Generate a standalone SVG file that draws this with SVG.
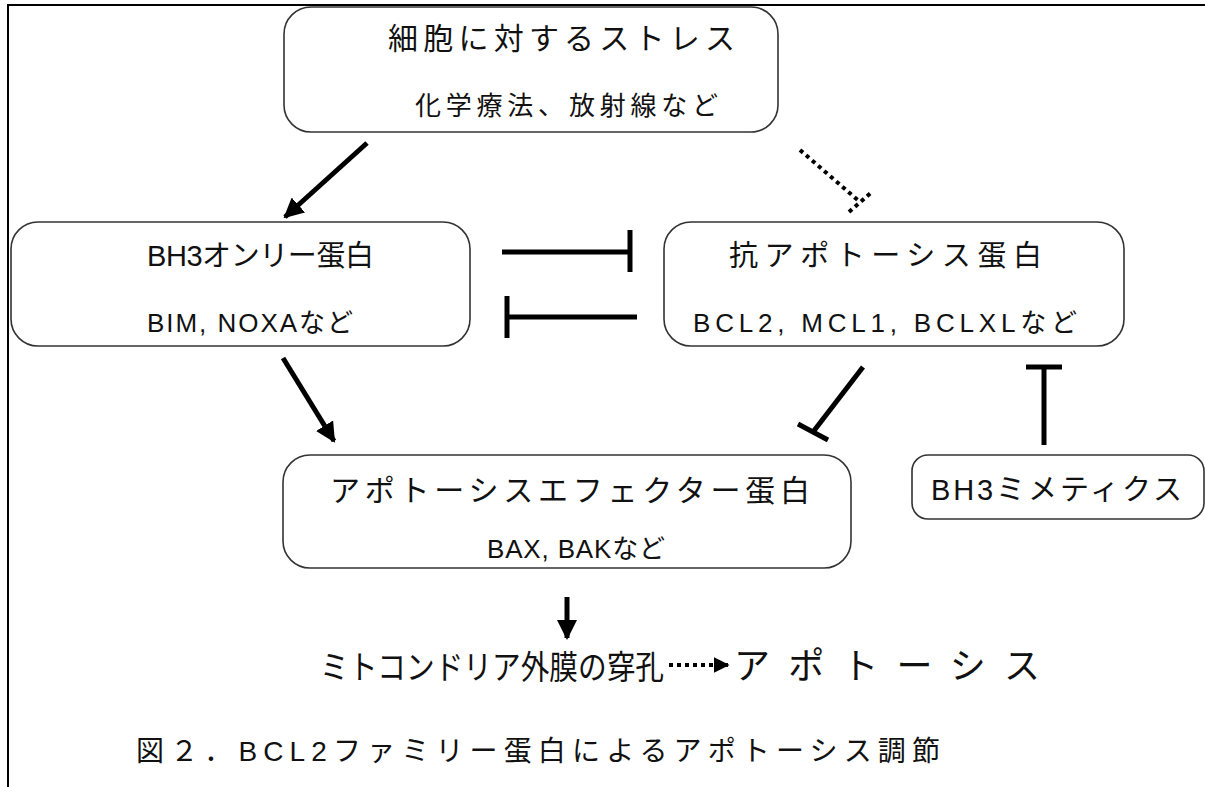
<svg xmlns="http://www.w3.org/2000/svg" width="1205" height="787" viewBox="0 0 1205 787">
<style>
.box{fill:#fff;stroke:#333;stroke-width:1.6}
.t{font-family:"Liberation Sans","Noto Sans CJK JP",sans-serif;fill:#111;text-anchor:start}
.ln{stroke:#000;stroke-width:5;fill:none}
.dot{stroke:#000;stroke-width:4;fill:none;stroke-dasharray:4 4}
</style>
<defs>
<marker id="ah" viewBox="0 0 10 10" refX="9" refY="5" markerWidth="4" markerHeight="4" orient="auto" markerUnits="strokeWidth">
<path d="M0,0 L10,5 L0,10 Z" fill="#000"/>
</marker>
</defs>
<rect width="1205" height="787" fill="#fff"/>
<g id="frame">
<path d="M1205,5 H8 V787" fill="none" stroke="#000" stroke-width="2"/>
</g>
<g id="stress">
<rect class="box" x="284" y="7" width="494" height="125" rx="27"/>
<text class="t" x="388" y="49" font-size="30" textLength="347" lengthAdjust="spacing">細胞に対するストレス</text>
<text class="t" x="415" y="115" font-size="26" textLength="303" lengthAdjust="spacing">化学療法、放射線など</text>
</g>
<g id="bh3only">
<rect class="box" x="11" y="222" width="459" height="124" rx="27"/>
<text class="t" x="147" y="266" font-size="29" textLength="227" lengthAdjust="spacing">BH3オンリー蛋白</text>
<text class="t" x="147" y="332" font-size="26" textLength="206" lengthAdjust="spacing">BIM, NOXAなど</text>
</g>
<g id="antiapoptosis">
<rect class="box" x="664" y="222" width="460" height="124" rx="27"/>
<text class="t" x="729" y="266" font-size="29" textLength="313" lengthAdjust="spacing">抗アポトーシス蛋白</text>
<text class="t" x="693" y="332" font-size="26" textLength="384" lengthAdjust="spacing">BCL2, MCL1, BCLXLなど</text>
</g>
<g id="effector">
<rect class="box" x="283" y="455" width="568" height="113" rx="27"/>
<text class="t" x="330" y="501" font-size="30" textLength="480" lengthAdjust="spacing">アポトーシスエフェクター蛋白</text>
<text class="t" x="487" y="558" font-size="26" textLength="178" lengthAdjust="spacing">BAX, BAKなど</text>
</g>
<g id="mimetics">
<rect class="box" x="912" y="455" width="292" height="64" rx="16"/>
<text class="t" x="931" y="500" font-size="29" textLength="251" lengthAdjust="spacing">BH3ミメティクス</text>
</g>
<g id="outcome">
<text class="t" x="320" y="679" font-size="33" textLength="344" lengthAdjust="spacingAndGlyphs">ミトコンドリア外膜の穿孔</text>
<text class="t" x="734" y="679" font-size="36" textLength="306" lengthAdjust="spacing">アポトーシス</text>
</g>
<g id="caption">
<text class="t" x="136" y="761" font-size="28" textLength="804" lengthAdjust="spacing">図２．BCL2ファミリー蛋白によるアポトーシス調節</text>
</g>
<g id="connectors">
<line class="ln" x1="367" y1="143" x2="285" y2="217" stroke-width="4" marker-end="url(#ah)"/>
<line class="dot" x1="800" y1="150" x2="860" y2="202" stroke-width="3.5" stroke-dasharray="3.5 3.5"/>
<line class="dot" x1="849" y1="212" x2="873" y2="191" stroke-width="3.5" stroke-dasharray="3.5 3.5"/>
<line class="ln" x1="502" y1="252" x2="630" y2="252"/>
<line class="ln" x1="630" y1="230" x2="630" y2="272"/>
<line class="ln" x1="507" y1="317" x2="637" y2="317"/>
<line class="ln" x1="507" y1="296" x2="507" y2="338"/>
<line class="ln" x1="283" y1="358" x2="334" y2="441" stroke-width="4" marker-end="url(#ah)"/>
<line class="ln" x1="863" y1="367" x2="813" y2="432" stroke-width="4"/>
<line class="ln" x1="798" y1="424" x2="828" y2="440" stroke-width="4"/>
<line class="ln" x1="1044" y1="367" x2="1044" y2="445"/>
<line class="ln" x1="1026" y1="367" x2="1062" y2="367"/>
<line class="ln" x1="567" y1="597" x2="567" y2="638" stroke-width="3.5" marker-end="url(#ah)"/>
<line class="dot" x1="669" y1="665" x2="728" y2="665" stroke-width="3" stroke-dasharray="3 3.5" marker-end="url(#ah)"/>
</g>
</svg>
